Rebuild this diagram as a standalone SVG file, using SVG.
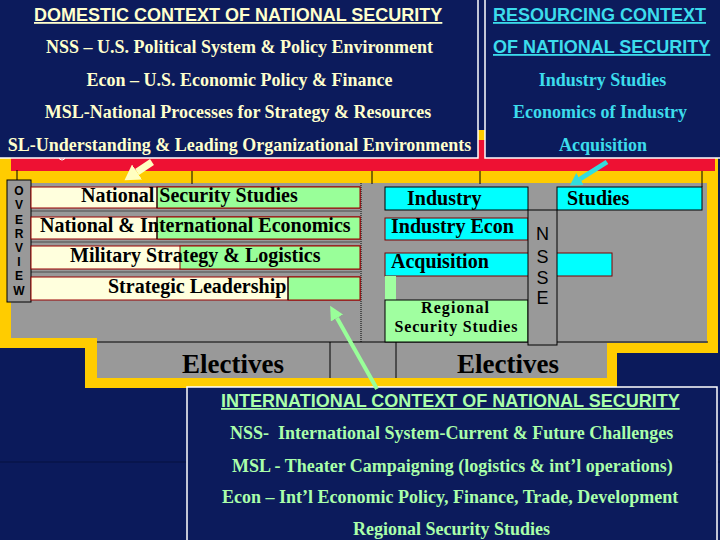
<svg xmlns="http://www.w3.org/2000/svg" width="720" height="540" viewBox="0 0 720 540">
<style>
.panel{fill:#0c1b5c;stroke:#ffffff;stroke-width:1.5}
.hd{font-family:"Liberation Sans",Arial,sans-serif;font-weight:bold;font-size:18px;text-decoration:underline}
.tm{font-family:"Liberation Serif","Times New Roman",serif;font-weight:bold;font-size:18px}
.rw{font-family:"Liberation Serif","Times New Roman",serif;font-weight:bold;font-size:20px;fill:#000}
.sm{font-family:"Liberation Serif","Times New Roman",serif;font-weight:bold;font-size:16px;fill:#000}
.el{font-family:"Liberation Serif","Times New Roman",serif;font-weight:bold;font-size:27px;fill:#000}
.ar{font-family:"Liberation Sans",Arial,sans-serif;fill:#000}
.cream{fill:#ffffcc}
.cyan{fill:#3cdcec}
.green{fill:#aaffaa}
.cr{fill:#ffffdd;stroke:#990000;stroke-width:1}
.gr{fill:#99ff99;stroke:#990000;stroke-width:1}
.cy{fill:#00ffff}
</style>
<defs>
<marker id="hCream" markerUnits="userSpaceOnUse" markerWidth="16" markerHeight="18" refX="0" refY="9" orient="auto"><path d="M0,0 L15,9 L0,18 z" fill="#ffffc0"/></marker>
<marker id="hCyan" markerUnits="userSpaceOnUse" markerWidth="13" markerHeight="14" refX="0" refY="7" orient="auto"><path d="M0,0 L12,7 L0,14 z" fill="#33dddd"/></marker>
<marker id="hGreen" markerUnits="userSpaceOnUse" markerWidth="15" markerHeight="14" refX="0" refY="7" orient="auto"><path d="M0,0 L14,7 L0,14 z" fill="#99ff99"/></marker>
</defs>
<rect x="0" y="0" width="720" height="540" fill="#0b1a5b"/>
<line x1="0" y1="462" x2="720" y2="462" stroke="#061040" stroke-width="1"/>

<g id="frame">
<polygon points="0,130 718,130 718,353 617,353 617,388 85,388 85,348 0,348" fill="#ffcc00"/>
<rect x="11" y="140" width="704" height="31" fill="#ee1133"/>
<polygon points="11,183 707,183 707,343 607,343 607,378 97,378 97,338 11,338" fill="#999999"/>
<g stroke="#000" stroke-width="1">
<line x1="17" y1="170" x2="17" y2="184"/>
<line x1="192" y1="171" x2="192" y2="184"/>
<line x1="372" y1="171" x2="372" y2="184"/>
<line x1="480" y1="171" x2="480" y2="184"/>
<line x1="702" y1="171" x2="702" y2="187"/>
<line x1="97" y1="342" x2="708" y2="342"/>
<line x1="330" y1="342" x2="330" y2="378"/>
<line x1="396" y1="342" x2="396" y2="378"/>
</g>
<line x1="361" y1="183" x2="361" y2="342" stroke="#000" stroke-width="1" stroke-dasharray="1,1"/>
<g stroke="#666" stroke-width="1.5">
<line x1="31" y1="211" x2="360" y2="211"/>
<line x1="31" y1="242" x2="360" y2="242"/>
<line x1="31" y1="272" x2="360" y2="272"/>
</g>
<circle cx="62" cy="157" r="3" fill="none" stroke="#ffffff" stroke-width="1"/>
</g>

<g id="overview">
<rect x="7" y="180" width="24" height="122" fill="#999999" stroke="#000" stroke-width="1"/>
<g class="ar" font-weight="bold" font-size="12" text-anchor="middle">
<text x="19" y="195">O</text><text x="19" y="209">V</text><text x="19" y="224">E</text><text x="19" y="238">R</text><text x="19" y="252">V</text><text x="19" y="266">I</text><text x="19" y="280">E</text><text x="19" y="295">W</text>
</g>
</g>

<g id="nss">
<rect class="cr" x="31" y="187" width="329" height="21"/>
<rect class="gr" x="157" y="187" width="203" height="21"/>
<line x1="157" y1="187" x2="157" y2="208" stroke="#000"/>
<text class="rw" x="81" y="202">National Security Studies</text>
</g>
<g id="econ">
<rect class="cr" x="31" y="217" width="329" height="22"/>
<rect class="gr" x="157" y="217" width="203" height="22"/>
<line x1="157" y1="217" x2="157" y2="239" stroke="#000"/>
<text class="rw" x="40" y="232">National &amp; International Economics</text>
</g>
<g id="msl">
<rect class="cr" x="31" y="246" width="329" height="23"/>
<rect class="gr" x="180" y="246" width="180" height="23"/>
<text class="rw" x="70" y="262">Military Strategy &amp; Logistics</text>
</g>
<g id="sl">
<rect class="cr" x="31" y="277" width="329" height="23"/>
<rect class="gr" x="288" y="277" width="72" height="23"/>
<line x1="288" y1="277" x2="288" y2="300" stroke="#000"/>
<text class="rw" x="108" y="293">Strategic Leadership</text>
</g>

<g id="industry">
<rect class="cy" x="385" y="187" width="143" height="23" stroke="#000"/>
<rect class="cy" x="557" y="187" width="145" height="23" stroke="#000"/>
<text class="rw" x="407" y="205">Industry</text>
<text class="rw" x="567" y="205">Studies</text>
</g>
<g id="industry-econ">
<rect class="cy" x="385" y="218" width="143" height="22" stroke="#800000"/>
<text class="rw" x="391" y="233">Industry Econ</text>
</g>
<g id="acquisition">
<rect class="cy" x="385" y="253" width="227" height="23" stroke="#800000"/>
<text class="rw" x="391" y="268">Acquisition</text>
</g>
<g id="regional">
<rect x="385" y="276" width="11" height="24" fill="#a0ffa0"/>
<rect x="385" y="300" width="143" height="42" fill="#a0ffa0" stroke="#000"/>
<text class="sm" x="455" y="313" text-anchor="middle" textLength="68">Regional</text>
<text class="sm" x="456" y="332" text-anchor="middle" textLength="123">Security Studies</text>
</g>
<g id="nsse">
<rect x="528" y="210" width="29" height="135" fill="#999999" stroke="#000"/>
<g class="ar" font-size="18" text-anchor="middle">
<text x="542.5" y="240">N</text><text x="542.5" y="263">S</text><text x="542.5" y="284">S</text><text x="542.5" y="304">E</text>
</g>
</g>
<g id="electives">
<text class="el" x="182" y="373">Electives</text>
<text class="el" x="457" y="373">Electives</text>
</g>

<g id="domestic">
<rect class="panel" x="-2" y="-2" width="480" height="160"/>
<text class="hd cream" x="34" y="21">DOMESTIC CONTEXT OF NATIONAL SECURITY</text>
<g class="tm cream" text-anchor="middle">
<text x="239.5" y="53">NSS – U.S. Political System &amp; Policy Environment</text>
<text x="239.5" y="86">Econ – U.S. Economic Policy &amp; Finance</text>
<text x="238" y="118">MSL-National Processes for Strategy &amp; Resources</text>
<text x="239.5" y="151">SL-Understanding &amp; Leading Organizational Environments</text>
</g>
</g>

<g id="resourcing">
<rect class="panel" x="485" y="-2" width="240" height="160"/>
<text class="hd cyan" x="493" y="21">RESOURCING CONTEXT</text>
<text class="hd cyan" x="493" y="53">OF NATIONAL SECURITY</text>
<g class="tm cyan" text-anchor="middle">
<text x="602.5" y="86">Industry Studies</text>
<text x="600" y="118">Economics of Industry</text>
<text x="603" y="151">Acquisition</text>
</g>
</g>

<g id="international">
<rect class="panel" x="187" y="387" width="530" height="160"/>
<text class="hd green" x="221" y="407">INTERNATIONAL CONTEXT OF NATIONAL SECURITY</text>
<g class="tm green">
<text x="230" y="439" xml:space="preserve">NSS-  International System-Current &amp; Future Challenges</text>
<text x="232" y="472">MSL - Theater Campaigning (logistics &amp; int’l operations)</text>
<text x="222" y="503">Econ – Int’l Economic Policy, Finance, Trade, Development</text>
<text x="353" y="535">Regional Security Studies</text>
</g>
</g>

<g id="connectors" fill="none" stroke-linecap="butt">
<line x1="152" y1="162" x2="137" y2="172" stroke="#ffffc0" stroke-width="7" marker-end="url(#hCream)"/>
<line x1="607" y1="162" x2="580" y2="179" stroke="#33dddd" stroke-width="5" marker-end="url(#hCyan)"/>
<line x1="377" y1="389" x2="337" y2="318" stroke="#99ff99" stroke-width="4" marker-end="url(#hGreen)"/>
</g>
</svg>
